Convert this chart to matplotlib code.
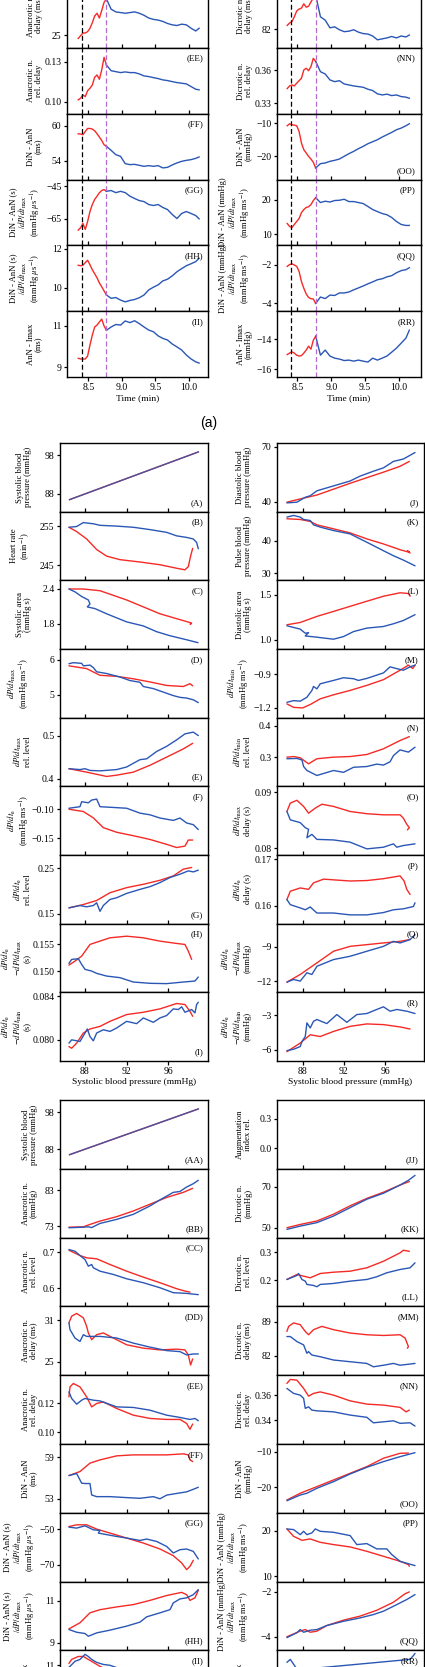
import matplotlib
matplotlib.use("Agg")
import matplotlib.pyplot as plt

# ---------------- time course block (top) ----------------
t_red = [8.35, 8.385, 8.42, 8.455, 8.49, 8.525, 8.56, 8.595, 8.63, 8.665, 8.70, 8.735, 8.77]
t_blue = [8.77, 8.84, 8.91, 8.98, 9.05, 9.12, 9.19, 9.26, 9.33, 9.40, 9.47, 9.54, 9.61,
          9.68, 9.75, 9.82, 9.89, 9.96, 10.03, 10.10, 10.15]
t_onset = 8.41
t_switch = 8.77

tDD_red = [24.5, 24.9, 25.3, 25.3, 25.5, 26.0, 26.8, 27.8, 28.2, 27.5, 28.6, 29.8, 30.3]
tDD_blue = [30.3, 28.8, 28.4, 28.3, 28.2, 28.3, 28.4, 28.2, 27.9, 27.5, 27.3, 27.2, 27.0,
            26.7, 26.5, 26.4, 26.6, 26.5, 26.0, 25.6, 26.0]
tMM_red = [82.8, 83.3, 83.6, 84.6, 85.8, 86.2, 86.4, 87.3, 86.6, 86.8, 87.7, 88.5, 89.1]
tMM_blue = [89.1, 84.6, 83.9, 82.3, 82.5, 81.9, 81.5, 81.6, 81.9, 81.4, 81.1, 81.0, 80.6,
            79.8, 80.0, 80.2, 80.5, 80.2, 80.6, 80.4, 80.8]
tEE_red = [0.1013, 0.1025, 0.105, 0.1037, 0.1082, 0.110, 0.1125, 0.1183, 0.120, 0.1168,
           0.1238, 0.1333, 0.1275]
tEE_blue = [0.1275, 0.1232, 0.1225, 0.1218, 0.1223, 0.1218, 0.1218, 0.1208, 0.1193, 0.1188,
            0.118, 0.1173, 0.1163, 0.1158, 0.115, 0.1143, 0.1138, 0.1133, 0.1113, 0.1093, 0.1088]
tNN_red = [0.3433, 0.3457, 0.3466, 0.3457, 0.3482, 0.3505, 0.3527, 0.3603, 0.3618, 0.3596,
           0.3633, 0.3709, 0.368]
tNN_blue = [0.368, 0.3587, 0.3566, 0.3512, 0.3496, 0.3505, 0.3475, 0.3466, 0.3457, 0.3451,
            0.3445, 0.3427, 0.3415, 0.3385, 0.3375, 0.3382, 0.3369, 0.3375, 0.336, 0.3355, 0.3345]
tFF_red = [58.64, 58.59, 58.47, 59.03, 59.54, 59.54, 59.43, 59.15, 58.64, 58.08, 57.5, 56.77, 56.49]
tFF_blue = [56.49, 55.81, 55.08, 54.79, 53.55, 53.38, 53.43, 53.26, 53.09, 53.21, 53.09, 53.21,
            52.82, 52.92, 53.33, 53.67, 53.94, 54.11, 54.23, 54.45, 54.69]
tOO_red = [-10.8, -10.2, -10.5, -10.6, -10.8, -12.5, -16.0, -18.0, -19.0, -20.0, -20.8, -21.8, -23.5]
tOO_blue = [-23.5, -22.2, -22.0, -21.5, -21.2, -20.8, -20.0, -19.2, -18.5, -17.7, -17.0, -16.2,
            -15.6, -15.0, -14.2, -13.5, -12.8, -12.0, -11.5, -10.8, -10.2]
tGG_red = [-71.9, -70.5, -67.8, -71.5, -66.6, -60.5, -56.2, -53.1, -51.1, -49.0, -47.6, -47.0, -48.1]
tGG_blue = [-48.1, -47.6, -48.9, -48.1, -48.9, -51.1, -52.5, -53.8, -54.4, -56.2, -56.8, -56.2,
            -58.0, -59.3, -62.3, -64.8, -61.7, -60.5, -61.7, -63.0, -65.0]
tPP_red = [13.17, 12.3, 12.0, 12.88, 13.75, 14.6, 16.3, 17.2, 17.8, 18.0, 18.6, 19.8, 20.6]
tPP_blue = [20.6, 19.22, 19.6, 19.37, 19.8, 19.88, 20.17, 19.5, 19.5, 19.22, 18.93, 18.07, 17.2,
            16.6, 16.05, 15.68, 14.9, 13.75, 12.88, 12.6, 12.6]
tHH_red = [11.14, 11.12, 11.14, 11.28, 11.4, 11.17, 10.91, 10.71, 10.5, 10.24, 10.04, 9.83, 9.62]
tHH_blue = [9.62, 9.45, 9.49, 9.36, 9.27, 9.34, 9.39, 9.48, 9.62, 9.88, 10.02, 10.14, 10.34,
            10.43, 10.6, 10.81, 10.97, 11.12, 11.22, 11.33, 11.5]
tQQ_red = [-2.09, -2.0, -1.96, -2.02, -2.09, -2.35, -2.87, -3.22, -3.51, -3.69, -3.76, -3.77, -4.0]
tQQ_blue = [-4.0, -3.67, -3.75, -3.57, -3.59, -3.46, -3.46, -3.41, -3.3, -3.2, -3.1, -2.99,
            -2.89, -2.78, -2.73, -2.63, -2.57, -2.42, -2.31, -2.26, -2.16]
tII_red = [9.43, 9.4, 9.39, 9.4, 9.54, 10.07, 10.55, 10.94, 11.03, 11.18, 11.32, 10.99, 10.78]
tII_blue = [10.78, 10.94, 11.06, 11.03, 11.23, 11.15, 11.24, 11.1, 10.94, 10.79, 10.71, 10.51,
            10.39, 10.31, 10.12, 9.98, 9.83, 9.59, 9.4, 9.26, 9.2]
tRR_red = [-15.01, -14.91, -14.83, -14.91, -15.05, -15.11, -15.08, -14.91, -14.71, -14.45,
           -14.65, -14.05, -13.78]
tRR_blue = [-13.78, -15.05, -14.71, -15.11, -15.25, -15.31, -15.41, -15.38, -15.45, -15.38,
            -15.45, -15.51, -15.25, -15.38, -15.25, -15.11, -14.85, -14.58, -14.25, -13.91, -13.38]

time_ticks = [8.5, 9.0, 9.5, 10.0]
time_ticklabels = ["8.5", "9.0", "9.5", "10.0"]

# ---------------- versus systolic pressure, (A)-(R) ----------------
sbp_ticks = [88, 92, 96]
sbp_line = [(86.5, 86.5), (98.9, 98.9)]

B_red = [(86.46, 254.7), (87.2, 253.6), (88.16, 251.7), (89.12, 249.0), (90.08, 247.3), (91.36, 246.4),
         (93.28, 245.8), (95.2, 245.1), (96.8, 244.2), (97.6, 243.8), (97.92, 244.6), (98.14, 247.3),
         (98.34, 249.3)]
B_blue = [(86.46, 254.7), (87.2, 254.9), (87.84, 255.9), (88.8, 255.6), (89.44, 255.2), (91.04, 255.0),
          (92.64, 254.7), (94.24, 254.1), (95.84, 253.4), (96.8, 252.5), (97.76, 252.1), (98.4, 251.7),
          (98.72, 250.8), (98.88, 249.2)]
C_red = [(86.46, 2.40), (87.84, 2.40), (89.44, 2.37), (92.0, 2.21), (95.2, 1.97), (98.24, 1.81),
         (98.1, 1.79), (98.2, 1.80)]
C_blue = [(86.46, 2.40), (87.04, 2.35), (87.68, 2.27), (88.32, 2.21), (88.48, 2.14), (88.22, 2.09),
          (88.96, 2.06), (90.08, 1.97), (92.0, 1.83), (93.6, 1.76), (94.88, 1.66), (96.16, 1.59),
          (97.76, 1.52), (98.85, 1.47)]
D_red = [(86.46, 5.82), (88.16, 5.74), (89.44, 5.55), (91.04, 5.52), (92.64, 5.45), (94.24, 5.36),
         (95.84, 5.26), (97.44, 5.23), (98.08, 5.31), (98.34, 5.25)]
D_blue = [(86.46, 5.88), (86.88, 5.91), (87.68, 5.89), (87.84, 5.82), (88.48, 5.84), (88.8, 5.77),
          (89.12, 5.65), (90.08, 5.60), (91.36, 5.50), (92.32, 5.40), (93.28, 5.35), (93.6, 5.23),
          (94.56, 5.17), (95.52, 5.07), (96.48, 4.97), (97.12, 4.92), (97.76, 4.90), (98.4, 4.85),
          (98.88, 4.77)]
E_red = [(86.46, 0.423), (88.16, 0.415), (90.08, 0.405), (91.04, 0.408), (92.64, 0.415), (94.24, 0.431),
         (95.84, 0.450), (97.44, 0.469), (98.34, 0.482)]
E_blue = [(86.46, 0.423), (87.52, 0.421), (88.0, 0.423), (88.48, 0.419), (89.44, 0.418), (91.04, 0.421),
          (92.0, 0.427), (93.28, 0.444), (93.92, 0.446), (94.88, 0.463), (95.84, 0.475), (96.8, 0.490),
          (97.6, 0.504), (98.4, 0.508), (98.88, 0.500)]
F_red = [(86.46, -0.100), (87.84, -0.104), (88.8, -0.115), (89.76, -0.132), (91.04, -0.140),
         (92.64, -0.146), (94.24, -0.1525), (95.84, -0.161), (96.8, -0.1665), (97.6, -0.164),
         (97.92, -0.1535), (98.34, -0.1535)]
F_blue = [(86.46, -0.0983), (87.52, -0.0956), (87.68, -0.087), (88.32, -0.0888), (88.64, -0.0841),
          (89.12, -0.0824), (89.44, -0.0956), (90.4, -0.0966), (92.0, -0.0983), (93.28, -0.1068),
          (94.24, -0.1097), (95.2, -0.1153), (96.48, -0.1194), (97.12, -0.1153), (97.76, -0.1239),
          (98.4, -0.1268), (98.88, -0.1353)]
G_red = [(86.46, 0.1632), (87.84, 0.1705), (89.12, 0.1793), (90.4, 0.1963), (92.0, 0.2074),
         (93.6, 0.2147), (95.2, 0.2235), (96.48, 0.233), (97.44, 0.2478), (98.24, 0.2515)]
G_blue = [(86.46, 0.1632), (87.52, 0.1683), (88.16, 0.1655), (88.8, 0.1683), (89.12, 0.1743),
          (89.44, 0.1557), (89.76, 0.1683), (90.4, 0.1816), (91.04, 0.1853), (92.0, 0.1948),
          (93.28, 0.2036), (94.24, 0.2096), (95.2, 0.2184), (96.16, 0.2295), (97.12, 0.2368),
          (97.92, 0.244), (98.4, 0.2418), (98.88, 0.2456)]
H_red = [(86.46, 0.15112), (87.04, 0.15187), (87.68, 0.15281), (88.48, 0.155), (89.12, 0.15543),
         (90.4, 0.15625), (92.0, 0.15655), (93.6, 0.15625), (95.2, 0.15562), (96.8, 0.15519),
         (97.6, 0.155), (97.92, 0.15375), (98.24, 0.15219)]
H_blue = [(86.46, 0.15144), (86.72, 0.15219), (87.36, 0.15232), (87.68, 0.15125), (88.0, 0.15032),
          (88.64, 0.150), (89.12, 0.14957), (90.08, 0.14906), (91.36, 0.14876), (92.64, 0.14794),
          (94.24, 0.1477), (95.84, 0.14764), (97.44, 0.14794), (98.56, 0.14813), (98.88, 0.14888)]
I_red = [(86.46, 0.07938), (86.72, 0.07923), (87.2, 0.0797), (87.84, 0.08062), (88.48, 0.08099),
         (89.44, 0.08123), (90.4, 0.08169), (92.0, 0.08231), (93.6, 0.08252), (95.2, 0.08283),
         (96.8, 0.08332), (97.6, 0.08323), (98.08, 0.08261), (98.34, 0.08215)]
I_blue = [(86.46, 0.0797), (86.72, 0.08), (87.52, 0.07985), (88.0, 0.08062), (88.22, 0.08099),
          (88.48, 0.0803), (88.8, 0.07991), (89.12, 0.08062), (89.76, 0.08092), (90.4, 0.08077),
          (91.04, 0.08108), (92.0, 0.08169), (92.96, 0.08148), (93.6, 0.082), (94.56, 0.0816),
          (95.2, 0.082), (95.84, 0.08222), (96.48, 0.08283), (96.96, 0.08277), (97.28, 0.08302),
          (97.6, 0.08252), (98.24, 0.08277), (98.56, 0.08246), (98.72, 0.08323), (98.88, 0.08344)]

J_red = [(86.48, 39.68), (87.77, 41.45), (89.39, 43.59), (91.0, 46.8), (92.61, 50.0), (94.23, 53.07),
         (95.84, 56.07), (97.45, 59.28), (98.35, 61.96)]
J_blue = [(86.48, 39.3), (87.45, 39.68), (88.26, 42.36), (88.74, 43.2), (89.39, 45.9), (91.0, 48.57),
          (92.61, 51.25), (93.58, 53.93), (94.87, 56.6), (95.84, 58.43), (96.81, 61.96), (97.77, 63.25),
          (98.9, 66.8)]
K_red = [(86.48, 46.72), (87.77, 46.5), (88.74, 45.9), (89.39, 44.86), (91.0, 43.62), (92.61, 42.38),
         (94.23, 40.53), (95.84, 38.98), (97.45, 37.21), (98.35, 36.41), (98.16, 36.9), (98.42, 36.19)]
K_blue = [(86.48, 47.24), (87.13, 47.74), (87.77, 47.24), (88.1, 46.5), (88.74, 46.19), (89.06, 44.86),
          (89.71, 44.15), (91.0, 43.1), (92.61, 42.07), (94.23, 39.5), (95.84, 36.9), (96.81, 35.36),
          (97.77, 34.02), (98.9, 32.26)]
L_red = [(86.48, 1.167), (87.77, 1.192), (89.39, 1.259), (91.0, 1.314), (92.61, 1.37), (94.23, 1.426),
         (95.84, 1.481), (97.45, 1.519), (98.26, 1.511), (98.42, 1.481)]
L_blue = [(86.48, 1.156), (87.77, 1.119), (88.26, 1.074), (88.58, 1.08), (88.26, 1.044), (89.39, 1.03),
          (91.0, 1.008), (91.97, 1.037), (92.94, 1.092), (94.23, 1.13), (95.84, 1.148), (96.81, 1.178),
          (97.77, 1.214), (98.9, 1.278)]
M_red = [(86.48, -1.164), (87.13, -1.195), (88.0, -1.2), (88.74, -1.17), (89.71, -1.119), (91.0, -1.083),
         (92.61, -1.044), (94.23, -0.999), (95.84, -0.948), (97.45, -0.864), (98.26, -0.819),
         (98.68, -0.849), (98.9, -0.819)]
M_blue = [(86.48, -1.15), (87.13, -1.135), (87.77, -1.14), (88.42, -1.105), (88.9, -1.045),
          (89.06, -1.009), (89.39, -1.03), (89.71, -0.985), (91.0, -0.955), (91.97, -0.931),
          (92.94, -0.94), (93.42, -0.955), (94.23, -0.937), (95.84, -0.888), (96.48, -0.834),
          (97.13, -0.85), (97.77, -0.864), (98.42, -0.834), (98.9, -0.819)]
N_red = [(86.48, 0.300), (87.13, 0.302), (87.77, 0.298), (88.58, 0.279), (89.39, 0.295), (91.0, 0.300),
         (92.61, 0.302), (94.23, 0.3085), (95.84, 0.3265), (97.45, 0.3527), (98.35, 0.365)]
N_blue = [(86.48, 0.295), (87.45, 0.296), (87.94, 0.291), (88.1, 0.2704), (88.42, 0.2578), (89.39, 0.242),
          (91.0, 0.2578), (91.97, 0.252), (92.94, 0.268), (94.23, 0.2704), (95.19, 0.278), (95.84, 0.275),
          (96.48, 0.2854), (96.81, 0.305), (97.45, 0.323), (98.26, 0.316), (98.9, 0.3316)]
O_red = [(86.48, 0.0866), (86.81, 0.0881), (87.45, 0.0886), (88.1, 0.0875), (88.58, 0.0863),
         (89.23, 0.0872), (89.87, 0.0879), (91.0, 0.0875), (92.61, 0.0866), (94.23, 0.0862),
         (95.84, 0.0860), (97.45, 0.0860), (97.77, 0.0854), (98.1, 0.0843), (98.35, 0.0837),
         (98.16, 0.0833)]
O_blue = [(86.48, 0.0866), (86.81, 0.0851), (87.77, 0.0846), (88.26, 0.0837), (88.58, 0.0834),
          (88.42, 0.0819), (88.9, 0.0825), (89.39, 0.0816), (91.0, 0.0815), (92.61, 0.0811),
          (94.23, 0.0799), (95.84, 0.0802), (96.81, 0.0808), (97.13, 0.0802), (97.77, 0.0805),
          (98.9, 0.0808)]
P_red = [(86.48, 0.1613), (86.81, 0.1631), (87.77, 0.1638), (88.58, 0.1635), (89.06, 0.1649),
         (90.03, 0.1657), (92.61, 0.1653), (94.23, 0.1654), (95.84, 0.1658), (97.45, 0.1664),
         (97.84, 0.1653), (98.1, 0.1635), (98.42, 0.1624)]
P_blue = [(86.48, 0.1613), (86.81, 0.1602), (87.77, 0.1595), (88.26, 0.1591), (88.74, 0.1597),
          (89.39, 0.1584), (91.0, 0.1584), (92.61, 0.1580), (94.23, 0.1580), (95.84, 0.1585),
          (96.81, 0.1591), (97.77, 0.1593), (98.74, 0.1598), (98.9, 0.1606)]
Q_red = [(86.48, -12.09), (87.77, -11.42), (89.39, -10.4), (91.0, -9.38), (92.61, -8.95), (94.23, -8.8),
         (95.84, -8.65), (97.45, -8.51), (98.35, -8.36)]
Q_blue = [(86.48, -12.09), (87.13, -11.86), (87.77, -12.0), (88.42, -11.27), (88.9, -11.42),
          (89.39, -10.7), (91.0, -10.11), (92.61, -9.82), (94.23, -9.38), (95.84, -8.95),
          (96.81, -8.51), (97.45, -8.65), (98.42, -8.36), (98.9, -7.92)]
R_red = [(86.48, -6.15), (87.77, -5.41), (88.74, -4.69), (89.71, -4.84), (91.0, -4.40), (92.61, -3.96),
         (94.23, -3.75), (95.84, -3.81), (97.45, -4.01), (98.42, -4.19)]
R_blue = [(86.48, -6.06), (87.13, -5.94), (87.77, -5.71), (87.94, -5.27), (88.26, -4.84), (88.42, -3.66),
          (88.74, -4.1), (89.06, -3.52), (89.39, -3.37), (90.35, -3.72), (91.32, -2.94), (92.29, -3.61),
          (93.26, -2.94), (94.23, -2.85), (95.19, -2.5), (95.84, -2.27), (96.48, -2.65), (97.13, -2.5),
          (98.1, -2.65), (98.9, -2.85)]

# ---------------- versus systolic pressure, (AA)-(RR) ----------------
BB_red = [(86.46, 72.8), (87.84, 72.9), (88.48, 73.56), (89.44, 74.47), (91.04, 75.69), (92.64, 77.25),
          (94.24, 79.11), (95.84, 80.97), (97.44, 82.36), (98.34, 83.47)]
BB_blue = [(86.46, 72.64), (87.84, 72.8), (88.32, 72.9), (88.64, 72.7), (89.44, 73.83), (91.04, 74.94),
           (92.64, 76.33), (94.24, 78.64), (95.2, 80.3), (96.48, 82.36), (97.12, 82.6), (97.76, 83.83),
           (98.4, 84.75), (98.88, 85.67)]
KK_red = [(86.48, 50.0), (87.77, 51.6), (89.39, 53.3), (91.0, 56.6), (92.61, 60.7), (94.23, 64.3),
          (95.84, 67.3), (97.45, 70.8), (98.35, 72.5)]
KK_blue = [(86.48, 49.2), (87.77, 50.8), (89.39, 52.5), (91.0, 55.7), (92.61, 59.8), (94.23, 63.9),
           (95.84, 66.8), (97.45, 70.8), (98.26, 73.1), (98.9, 75.5)]
CC_red = [(86.46, 0.7056), (87.52, 0.6908), (88.16, 0.6844), (89.12, 0.6817), (90.4, 0.6658),
          (92.0, 0.6472), (93.6, 0.6306), (95.2, 0.615), (96.8, 0.5983), (97.6, 0.5917), (98.08, 0.5889)]
CC_blue = [(86.46, 0.7075), (87.04, 0.7028), (87.52, 0.6908), (88.0, 0.6797), (88.32, 0.6611),
           (88.64, 0.6658), (88.8, 0.6567), (89.44, 0.6472), (90.72, 0.6381), (92.0, 0.626),
           (93.6, 0.615), (95.2, 0.601), (96.48, 0.5872), (97.76, 0.5853), (98.88, 0.5817)]
LL_red = [(86.48, 0.2035), (87.45, 0.2212), (88.1, 0.2152), (88.74, 0.2095), (89.71, 0.2247),
          (91.0, 0.2293), (92.61, 0.2329), (94.23, 0.2449), (95.84, 0.2682), (97.45, 0.2979),
          (97.77, 0.3071), (98.35, 0.3035)]
LL_blue = [(86.48, 0.2035), (87.45, 0.2177), (87.61, 0.2247), (87.94, 0.2035), (88.26, 0.1975),
           (88.42, 0.1859), (89.06, 0.1823), (89.39, 0.1777), (89.71, 0.1859), (91.0, 0.1894),
           (92.61, 0.1975), (94.23, 0.2035), (95.19, 0.2131), (96.16, 0.2272), (97.45, 0.2389),
           (98.42, 0.2449), (98.9, 0.2625)]
DD_red = [(86.46, 30.62), (86.72, 31.59), (87.2, 31.98), (87.84, 31.35), (88.16, 30.12), (88.32, 29.16),
          (88.64, 28.18), (89.12, 28.91), (89.76, 29.16), (90.72, 28.43), (92.0, 27.45), (93.6, 26.96),
          (95.2, 26.71), (96.8, 26.82), (97.6, 26.71), (97.92, 25.98), (98.14, 24.52), (98.34, 25.4)]
DD_blue = [(86.46, 30.62), (86.56, 29.64), (87.04, 28.42), (87.52, 27.93), (87.84, 28.91), (88.16, 28.66),
           (89.44, 28.66), (91.04, 28.43), (92.64, 27.69), (94.24, 27.11), (95.84, 26.61), (97.12, 26.46),
           (97.76, 25.98), (98.4, 26.12), (98.88, 26.12)]
MM_red = [(86.48, 87.05), (86.65, 88.09), (87.13, 88.8), (87.77, 88.44), (88.26, 87.05), (88.58, 86.37),
          (89.06, 87.41), (89.87, 88.09), (91.0, 87.41), (92.61, 86.72), (94.23, 86.37), (95.84, 86.22),
          (97.45, 86.37), (97.94, 85.68), (98.26, 83.93), (98.16, 83.6)]
MM_blue = [(86.48, 86.0), (86.81, 86.0), (87.45, 84.97), (88.1, 84.28), (88.42, 82.56), (88.58, 82.9),
           (88.9, 82.2), (89.71, 81.85), (91.0, 81.17), (92.61, 80.82), (94.23, 80.47), (94.87, 79.78),
           (95.84, 80.1), (96.81, 80.47), (97.45, 80.1), (98.9, 80.47)]
EE_red = [(86.46, 0.1246), (86.56, 0.1316), (86.88, 0.134), (87.52, 0.1316), (88.16, 0.1246),
          (88.64, 0.1176), (89.12, 0.1200), (89.76, 0.1211), (91.04, 0.1165), (92.64, 0.1118),
          (94.24, 0.1095), (95.84, 0.1088), (97.12, 0.1088), (97.76, 0.106), (98.08, 0.1019),
          (98.34, 0.1056)]
EE_blue = [(86.46, 0.1281), (86.72, 0.1235), (87.2, 0.1195), (87.68, 0.1223), (88.0, 0.1235),
           (88.8, 0.1223), (89.44, 0.1218), (91.04, 0.1176), (92.64, 0.1172), (94.24, 0.1153),
           (95.84, 0.1118), (97.12, 0.1102), (98.08, 0.1088), (98.56, 0.1095), (98.88, 0.1079)]
NN_red = [(86.48, 0.3694), (86.81, 0.3726), (87.45, 0.372), (88.1, 0.3654), (88.58, 0.3592),
          (89.06, 0.3614), (89.71, 0.3626), (91.0, 0.36), (92.61, 0.3554), (94.23, 0.3528),
          (95.84, 0.352), (97.45, 0.3502), (98.03, 0.3466), (98.35, 0.348)]
NN_blue = [(86.48, 0.3654), (87.13, 0.3614), (87.77, 0.36), (88.1, 0.3574), (88.26, 0.3494),
           (88.58, 0.3506), (88.9, 0.348), (89.39, 0.3474), (91.0, 0.3466), (92.61, 0.344),
           (94.23, 0.3422), (94.87, 0.3378), (95.84, 0.3386), (96.81, 0.3394), (97.45, 0.3374),
           (98.42, 0.3378), (98.9, 0.3352)]
FF_red = [(86.46, 56.35), (87.52, 56.93), (88.48, 58.14), (89.44, 58.61), (91.04, 59.19), (92.64, 59.33),
          (94.24, 59.33), (95.84, 59.33), (97.44, 59.48), (97.92, 59.33), (98.08, 58.61), (98.34, 58.37)]
FF_blue = [(86.46, 56.35), (87.2, 56.64), (87.68, 55.25), (88.0, 55.2), (88.48, 55.2), (88.64, 53.55),
           (89.12, 53.31), (90.4, 53.31), (92.0, 53.17), (93.28, 53.07), (94.56, 53.31), (95.2, 53.0),
           (95.84, 53.53), (96.8, 53.77), (97.76, 54.0), (98.4, 54.37), (98.88, 54.66)]
OO_red = [(86.48, -23.6), (87.77, -21.7), (89.39, -19.83), (91.0, -17.96), (92.61, -16.08),
          (94.23, -14.2), (95.84, -11.85), (97.45, -10.45), (98.26, -10.4)]
OO_blue = [(86.48, -23.8), (87.77, -22.2), (88.42, -21.7), (89.39, -20.3), (91.0, -18.43),
           (92.61, -16.27), (94.23, -14.39), (95.84, -12.8), (97.45, -11.4), (98.9, -10.28)]
GG_red = [(86.46, -48.56), (87.2, -47.61), (88.16, -47.61), (89.12, -50.0), (90.4, -52.22), (92.0, -55.0),
          (93.6, -57.78), (95.2, -61.11), (96.48, -64.83), (97.28, -68.89), (97.76, -72.61),
          (98.08, -70.78), (98.4, -67.44)]
GG_blue = [(86.46, -48.89), (87.2, -49.44), (88.0, -48.17), (88.8, -50.39), (89.44, -50.78),
           (89.28, -52.22), (91.04, -54.11), (92.0, -55.0), (93.28, -56.33), (93.92, -55.56),
           (94.88, -56.89), (95.84, -59.67), (96.48, -63.33), (97.12, -61.5), (97.76, -61.11),
           (98.4, -62.44), (98.88, -66.67)]
PP_red = [(86.48, 20.37), (87.13, 18.75), (87.94, 17.88), (88.74, 18.18), (89.71, 17.44), (91.0, 16.94),
          (92.61, 16.43), (94.23, 15.47), (95.84, 14.38), (97.45, 13.28), (98.26, 12.56), (98.35, 12.19)]
PP_blue = [(86.48, 20.37), (87.13, 20.22), (87.77, 19.12), (88.1, 19.85), (88.42, 19.12), (88.9, 19.5),
           (89.23, 20.37), (89.71, 19.85), (91.0, 19.63), (92.61, 18.91), (93.26, 16.94), (94.23, 17.16),
           (95.19, 16.0), (96.16, 16.0), (96.65, 14.75), (97.45, 13.28), (98.9, 12.34)]
HH_red = [(86.46, 9.66), (87.52, 9.95), (88.48, 10.42), (89.44, 10.57), (91.04, 10.7), (92.64, 10.81),
          (94.24, 11.01), (95.84, 11.24), (97.28, 11.39), (97.76, 11.28), (98.08, 11.01), (98.56, 11.13),
          (98.88, 11.49)]
HH_blue = [(86.46, 9.63), (87.2, 9.5), (88.0, 9.44), (88.32, 9.31), (89.12, 9.47), (90.4, 9.6),
           (92.0, 9.79), (93.28, 9.98), (93.92, 10.23), (95.2, 10.42), (96.16, 10.57), (96.48, 10.89),
           (97.12, 11.08), (97.76, 11.13), (98.4, 11.28), (98.88, 11.52)]
QQ_red = [(86.48, -4.0), (87.77, -3.75), (88.26, -3.68), (88.74, -3.8), (89.39, -3.75), (90.35, -3.5),
          (91.97, -3.26), (93.58, -3.08), (95.19, -2.82), (96.81, -2.46), (97.94, -2.08), (98.35, -2.0)]
QQ_blue = [(86.48, -4.04), (87.45, -3.82), (87.77, -3.68), (88.1, -3.8), (88.74, -3.71), (89.39, -3.68),
           (90.35, -3.5), (91.97, -3.31), (93.58, -3.16), (94.87, -3.01), (95.84, -2.86), (96.81, -2.64),
           (98.1, -2.34), (98.9, -2.12)]
II_red = [(86.46, 11.08), (86.72, 11.27), (87.36, 11.41), (87.84, 11.41), (88.32, 11.27), (88.8, 11.13),
          (89.44, 10.94), (90.4, 10.7)]
II_blue = [(86.46, 10.89), (87.04, 11.18), (87.52, 11.27), (88.0, 11.51), (88.32, 11.41), (88.64, 11.27),
           (89.12, 11.13), (89.76, 11.03), (90.4, 10.99), (91.5, 10.8)]
RR_blue = [(86.48, -12.8), (86.81, -12.6), (87.5, -13.3), (98.42, -12.6), (98.74, -12.35), (98.9, -12.2)]

# ---------------- style ----------------
RED = "#f52a26"
BLUE = "#2a57b5"
VIOLET = "#b36bd0"
W, H = 425, 1667

plt.rcParams["font.family"] = ["Liberation Serif", "DejaVu Serif"]
plt.rcParams["mathtext.fontset"] = "stix"
plt.rcParams["axes.linewidth"] = 1.0
plt.rcParams["xtick.major.width"] = 0.9
plt.rcParams["ytick.major.width"] = 0.9

fig = plt.figure(figsize=(W / 100, H / 100), dpi=100)


def box(x0, x1, top, h):
    return fig.add_axes([x0 / W, 1 - (top + h) / H, (x1 - x0) / W, h / H])


def dress(ax, ylim, yticks, ylabels, ylabel, tag, tag_up, lab_x, last, xticks, xlabels, xlabel):
    ax.set_ylim(*ylim)
    ax.set_yticks(yticks, ylabels)
    ax.set_xticks(xticks)
    ax.tick_params(axis="y", direction="out", length=2.5, labelsize=7, pad=1.5)
    if last:
        ax.set_xticklabels(xlabels)
        ax.tick_params(axis="x", direction="out", length=3, labelsize=7, pad=1.5)
        ax.set_xlabel(xlabel, fontsize=6.8, labelpad=1.5)
    else:
        ax.set_xticklabels([])
        ax.tick_params(axis="x", direction="in", length=3)
    # right edge of the rotated label block sits at lab_x (axes fraction)
    ax.text(lab_x, 0.5, ylabel, transform=ax.transAxes, rotation=90, ha="right", va="center",
            fontsize=6.2, linespacing=1.0, multialignment="center")
    if tag_up:
        ax.text(0.965, 0.9, tag, transform=ax.transAxes, ha="right", va="top", fontsize=6.5)
    else:
        ax.text(0.965, 0.07, tag, transform=ax.transAxes, ha="right", va="bottom", fontsize=6.5)


def curve(ax, pts, color, alpha=1.0):
    xs = [p[0] for p in pts]
    ys = [p[1] for p in pts]
    ax.plot(xs, ys, color=color, lw=1.0, alpha=alpha, solid_capstyle="round")


lab_anac_d = "Anacrotic n.\ndelay (ms)"
lab_anac_rd = "Anacrotic n.\nrel. delay"
lab_dic_d = "Dicrotic n.\ndelay (ms)"
lab_dic_rd = "Dicrotic n.\nrel. delay"
lab_diff_ms = "DiN - AnN\n(ms)"
lab_diff_mm = "DiN - AnN\n(mmHg)"
lab_ratio_s = "DiN - AnN (s)\n/$dP/dt_{\\mathrm{max}}$\n(mmHg $\\mu$s$^{-1}$)"
lab_ratio_mm = "DiN - AnN (mmHg)\n/$dP/dt_{\\mathrm{max}}$\n(mmHg ms$^{-1}$)"
lab_imax_ms = "AnN - Imax\n(ms)"
lab_imax_mm = "AnN - Imax\n(mmHg)"

# ---- block 1: time course ----
time_left = [
    (lab_anac_d, tDD_red, tDD_blue, (23.1, 32.76), [25, 31], ["25", "31"], "(DD)", True),
    (lab_anac_rd, tEE_red, tEE_blue, (0.0908, 0.1403), [0.10, 0.13], ["0.10", "0.13"], "(EE)", True),
    (lab_diff_ms, tFF_red, tFF_blue, (50.83, 62.04), [54, 60], ["54", "60"], "(FF)", True),
    (lab_ratio_s, tGG_red, tGG_blue, (-81.3, -40.9), [-65, -45], ["\u221265", "\u221245"], "(GG)", True),
    (lab_ratio_s, tHH_red, tHH_blue, (8.79, 12.16), [10, 12], ["10", "12"], "(HH)", True),
    (lab_imax_ms, tII_red, tII_blue, (8.53, 11.7), [9, 11], ["9", "11"], "(II)", True),
]
time_right = [
    (lab_dic_d, tMM_red, tMM_blue, (78.1, 91.8), [82, 89], ["82", "89"], "(MM)", True),
    (lab_dic_rd, tNN_red, tNN_blue, (0.3203, 0.3803), [0.33, 0.36], ["0.33", "0.36"], "(NN)", True),
    (lab_diff_mm, tOO_red, tOO_blue, (-27.0, -7.2), [-20, -10], ["\u221220", "\u221210"], "(OO)", False),
    (lab_ratio_mm, tPP_red, tPP_blue, (6.83, 25.85), [10, 20], ["10", "20"], "(PP)", True),
    (lab_ratio_mm, tQQ_red, tQQ_blue, (-4.4, -1.01), [-4, -2], ["\u22124", "\u22122"], "(QQ)", True),
    (lab_imax_mm, tRR_red, tRR_blue, (-16.51, -12.11), [-16, -14], ["\u221216", "\u221214"], "(RR)", True),
]
row_h = 65.8
for col, (x0, x1, xlim, lab_x) in enumerate([(67, 208.3, (8.183, 10.287), -0.168),
                                              (277.3, 420.7, (8.204, 10.318), -0.17)]):
    specs = time_left if col == 0 else time_right
    for i, (ylab, yr, yb, ylim, yt, ytl, tag, up) in enumerate(specs):
        ax = box(x0, x1, 48 + (i - 1) * row_h, row_h)
        ax.plot(t_red, yr, color=RED, lw=1.0)
        ax.plot(t_blue, yb, color=BLUE, lw=1.0)
        ax.axvline(t_onset, color="black", ls=(0, (4, 2.2)), lw=0.9)
        ax.axvline(t_switch, color=VIOLET, ls=(0, (4, 2.2)), lw=0.9)
        ax.set_xlim(*xlim)
        dress(ax, ylim, yt, ytl, ylab, tag, up, lab_x, i == len(specs) - 1,
              time_ticks, time_ticklabels, "Time (min)")

fig.text(209 / W, 1 - 423 / H, "(a)", ha="center", va="center", fontsize=10,
         family=["Liberation Sans", "DejaVu Sans"])

# ---- block 2: (A)-(R) ----
sbp_xlabel = "Systolic blood pressure (mmHg)"
lab_sbp = "Systolic blood\npressure (mmHg)"
mid_left = [
    (lab_sbp, sbp_line, sbp_line, (83.4, 101.2), [88, 98], ["88", "98"], "(A)", False),
    ("Heart rate\n(min$^{-1}$)", B_red, B_blue, (241.1, 258.7), [245, 255], ["245", "255"], "(B)", True),
    ("Systolic area\n(mmHg s)", C_red, C_blue, (1.36, 2.55), [1.8, 2.4], ["1.8", "2.4"], "(C)", True),
    ("$dP/dt_{\\mathrm{max}}$\n(mmHg ms$^{-1}$)", D_red, D_blue, (4.34, 6.30), [5, 6], ["5", "6"], "(D)", True),
    ("$dP/dt_{\\mathrm{max}}$\nrel. level", E_red, E_blue, (0.382, 0.5416), [0.4, 0.5], ["0.4", "0.5"], "(E)", False),
    ("$dP/dt_{\\mathrm{e}}$\n(mmHg ms$^{-1}$)", F_red, F_blue, (-0.1795, -0.0603), [-0.15, -0.10],
     ["\u22120.15", "\u22120.10"], "(F)", True),
    ("$dP/dt_{\\mathrm{e}}$\nrel. level", G_red, G_blue, (0.1286, 0.2787), [0.15, 0.25], ["0.15", "0.25"], "(G)", False),
    ("$dP/dt_{\\mathrm{e}}$\n$-dP/dt_{\\mathrm{max}}$\n(s)", H_red, H_blue, (0.146, 0.1589), [0.150, 0.155],
     ["0.150", "0.155"], "(H)", True),
    ("$dP/dt_{\\mathrm{e}}$\n$-dP/dt_{\\mathrm{min}}$\n(s)", I_red, I_blue, (0.07806, 0.08434), [0.080, 0.084],
     ["0.080", "0.084"], "(I)", False),
]
mid_right = [
    ("Diastolic blood\npressure (mmHg)", J_red, J_blue, (34.5, 72.0), [40, 70], ["40", "70"], "(J)", False),
    ("Pulse blood\npressure (mmHg)", K_red, K_blue, (27.8, 48.9), [30, 40], ["30", "40"], "(K)", True),
    ("Diastolic area\n(mmHg s)", L_red, L_blue, (0.9, 1.656), [1.0, 1.5], ["1.0", "1.5"], "(L)", True),
    ("$dP/dt_{\\mathrm{min}}$\n(mmHg ms$^{-1}$)", M_red, M_blue, (-1.287, -0.675), [-1.2, -0.9],
     ["\u22121.2", "\u22120.9"], "(M)", True),
    ("$dP/dt_{\\mathrm{min}}$\nrel. level", N_red, N_blue, (0.2076, 0.425), [0.3, 0.4], ["0.3", "0.4"], "(N)", True),
    ("$dP/dt_{\\mathrm{max}}$\ndelay (s)", O_red, O_blue, (0.0788, 0.0911), [0.08, 0.09], ["0.08", "0.09"], "(O)", True),
    ("$dP/dt_{\\mathrm{e}}$\ndelay (s)", P_red, P_blue, (0.1561, 0.1709), [0.16, 0.17], ["0.16", "0.17"], "(P)", True),
    ("$dP/dt_{\\mathrm{e}}$\n$-dP/dt_{\\mathrm{max}}$\n(mmHg)", Q_red, Q_blue, (-12.99, -6.96), [-12, -9],
     ["\u221212", "\u22129"], "(Q)", True),
    ("$dP/dt_{\\mathrm{e}}$\n$-dP/dt_{\\mathrm{min}}$\n(mmHg)", R_red, R_blue, (-6.96, -1.02), [-6, -3],
     ["\u22126", "\u22123"], "(R)", True),
]

# ---- block 3: (AA)-(RR) ----
low_left = [
    (lab_sbp, sbp_line, sbp_line, (82.7, 101.3), [88, 98], ["88", "98"], "(AA)", False),
    ("Anacrotic n.\n(mmHg)", BB_red, BB_blue, (69.94, 88.83), [73, 83], ["73", "83"], "(BB)", False),
    ("Anacrotic n.\nrel. level", CC_red, CC_blue, (0.549, 0.7408), [0.6, 0.7], ["0.6", "0.7"], "(CC)", True),
    (lab_anac_d, DD_red, DD_blue, (23.05, 33.0), [25, 31], ["25", "31"], "(DD)", True),
    (lab_anac_rd, EE_red, EE_blue, (0.0916, 0.1398), [0.10, 0.12], ["0.10", "0.12"], "(EE)", True),
    (lab_diff_ms, FF_red, FF_blue, (50.98, 60.9), [53, 59], ["53", "59"], "(FF)", True),
    (lab_ratio_s, GG_red, GG_blue, (-79.3, -40.9), [-70, -50], ["\u221270", "\u221250"], "(GG)", True),
    (lab_ratio_s, HH_red, HH_blue, (8.64, 11.9), [9, 11], ["9", "11"], "(HH)", False),
    (lab_imax_ms, II_red, II_blue, (8.42, 11.7), [9, 11], ["9", "11"], "(II)", True),
]
low_right = [
    ("Augmentation\nindex rel.", [], [], (-0.207, 0.493), [0.0, 0.3], ["0.0", "0.3"], "(JJ)", False),
    ("Dicrotic n.\n(mmHg)", KK_red, KK_blue, (45.2, 78.7), [50, 70], ["50", "70"], "(KK)", False),
    ("Dicrotic n.\nrel. level", LL_red, LL_blue, (0.108, 0.352), [0.2, 0.3], ["0.2", "0.3"], "(LL)", False),
    (lab_dic_d, MM_red, MM_blue, (78.05, 92.2), [82, 89], ["82", "89"], "(MM)", True),
    (lab_dic_rd, NN_red, NN_blue, (0.3208, 0.376), [0.34, 0.36], ["0.34", "0.36"], "(NN)", True),
    (lab_diff_mm, OO_red, OO_blue, (-27.2, -7.84), [-20, -10], ["\u221220", "\u221210"], "(OO)", False),
    (lab_ratio_mm, PP_red, PP_blue, (8.84, 23.9), [10, 20], ["10", "20"], "(PP)", True),
    (lab_ratio_mm, QQ_red, QQ_blue, (-4.61, -1.54), [-4, -2], ["\u22124", "\u22122"], "(QQ)", False),
    (lab_imax_mm, [], RR_blue, (-16.6, -12.0), [-16, -14], ["\u221216", "\u221214"], "(RR)", True),
]

blocks = [(mid_left, mid_right, 443, 68.67, True), (low_left, low_right, 1100, 68.8, False)]
for left_specs, right_specs, top0, rh, has_axis in blocks:
    cols = [(left_specs, 60, 208.3, (85.6, 99.84), -0.19 if has_axis else -0.15),
            (right_specs, 277, 424, (85.52, 99.77), -0.172 if has_axis else -0.168)]
    for specs, x0, x1, xlim, lab_x in cols:
        for i, (ylab, red, blue, ylim, yt, ytl, tag, up) in enumerate(specs):
            ax = box(x0, x1, top0 + i * rh, rh)
            if red:
                curve(ax, red, RED)
            if blue:
                curve(ax, blue, BLUE, 0.85 if blue is sbp_line else 1.0)
            ax.set_xlim(*xlim)
            last = has_axis and i == len(specs) - 1
            dress(ax, ylim, yt, ytl, ylab, tag, up, lab_x, last,
                  sbp_ticks, [str(v) for v in sbp_ticks], sbp_xlabel)

fig.savefig("out.png", dpi=100)
